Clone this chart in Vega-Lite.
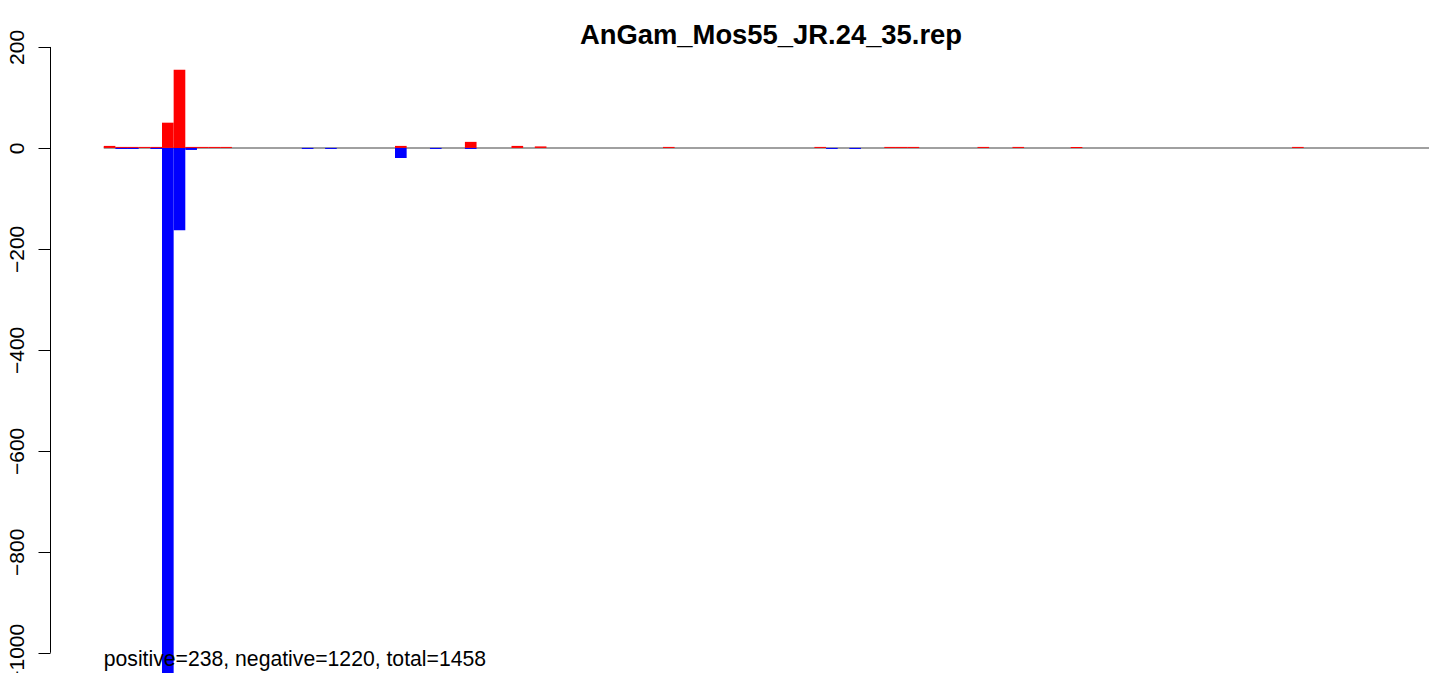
{
  "$schema": "https://vega.github.io/schema/vega-lite/v6.json",
  "autosize": {"type": "none"},
  "padding": {"left": 50, "top": 0, "right": 0, "bottom": 0},
  "width": 1379,
  "height": 673,
  "background": "white",
  "config": {"view": {"stroke": null}, "font": "Liberation Sans"},
  "title": {"text": "AnGam_Mos55_JR.24_35.rep", "font": "Liberation Sans", "fontSize": 27.4, "fontWeight": "bold", "color": "black", "anchor": "middle", "frame": "group", "dx": 31.5, "offset": -71, "baseline": "alphabetic", "orient": "top"},
  "data": {"values": [
    {"bar": 1, "pos": 4, "neg": 0},
    {"bar": 2, "pos": 2, "neg": -2},
    {"bar": 3, "pos": 2, "neg": -2},
    {"bar": 4, "pos": 2, "neg": 0},
    {"bar": 5, "pos": 2, "neg": -2},
    {"bar": 6, "pos": 50, "neg": -1060},
    {"bar": 7, "pos": 155, "neg": -163},
    {"bar": 8, "pos": 2, "neg": -4},
    {"bar": 9, "pos": 2, "neg": 0},
    {"bar": 10, "pos": 2, "neg": 0},
    {"bar": 11, "pos": 2, "neg": 0},
    {"bar": 12, "pos": 0, "neg": 0},
    {"bar": 13, "pos": 0, "neg": 0},
    {"bar": 14, "pos": 0, "neg": 0},
    {"bar": 15, "pos": 0, "neg": 0},
    {"bar": 16, "pos": 0, "neg": 0},
    {"bar": 17, "pos": 0, "neg": 0},
    {"bar": 18, "pos": 0, "neg": -2},
    {"bar": 19, "pos": 0, "neg": 0},
    {"bar": 20, "pos": 0, "neg": -2},
    {"bar": 21, "pos": 0, "neg": 0},
    {"bar": 22, "pos": 0, "neg": 0},
    {"bar": 23, "pos": 0, "neg": 0},
    {"bar": 24, "pos": 0, "neg": 0},
    {"bar": 25, "pos": 0, "neg": 0},
    {"bar": 26, "pos": 4, "neg": -20},
    {"bar": 27, "pos": 0, "neg": 0},
    {"bar": 28, "pos": 0, "neg": 0},
    {"bar": 29, "pos": 0, "neg": -2},
    {"bar": 30, "pos": 0, "neg": 0},
    {"bar": 31, "pos": 0, "neg": 0},
    {"bar": 32, "pos": 12, "neg": -2},
    {"bar": 33, "pos": 0, "neg": 0},
    {"bar": 34, "pos": 0, "neg": 0},
    {"bar": 35, "pos": 0, "neg": 0},
    {"bar": 36, "pos": 4, "neg": 0},
    {"bar": 37, "pos": 0, "neg": 0},
    {"bar": 38, "pos": 3, "neg": 0},
    {"bar": 39, "pos": 0, "neg": 0},
    {"bar": 40, "pos": 0, "neg": 0},
    {"bar": 41, "pos": 0, "neg": 0},
    {"bar": 42, "pos": 0, "neg": 0},
    {"bar": 43, "pos": 0, "neg": 0},
    {"bar": 44, "pos": 0, "neg": 0},
    {"bar": 45, "pos": 0, "neg": 0},
    {"bar": 46, "pos": 0, "neg": 0},
    {"bar": 47, "pos": 0, "neg": 0},
    {"bar": 48, "pos": 0, "neg": 0},
    {"bar": 49, "pos": 2, "neg": 0},
    {"bar": 50, "pos": 0, "neg": 0},
    {"bar": 51, "pos": 0, "neg": 0},
    {"bar": 52, "pos": 0, "neg": 0},
    {"bar": 53, "pos": 0, "neg": 0},
    {"bar": 54, "pos": 0, "neg": 0},
    {"bar": 55, "pos": 0, "neg": 0},
    {"bar": 56, "pos": 0, "neg": 0},
    {"bar": 57, "pos": 0, "neg": 0},
    {"bar": 58, "pos": 0, "neg": 0},
    {"bar": 59, "pos": 0, "neg": 0},
    {"bar": 60, "pos": 0, "neg": 0},
    {"bar": 61, "pos": 0, "neg": 0},
    {"bar": 62, "pos": 2, "neg": 0},
    {"bar": 63, "pos": 0, "neg": -2},
    {"bar": 64, "pos": 0, "neg": 0},
    {"bar": 65, "pos": 0, "neg": -2},
    {"bar": 66, "pos": 0, "neg": 0},
    {"bar": 67, "pos": 0, "neg": 0},
    {"bar": 68, "pos": 2, "neg": 0},
    {"bar": 69, "pos": 2, "neg": 0},
    {"bar": 70, "pos": 2, "neg": 0},
    {"bar": 71, "pos": 0, "neg": 0},
    {"bar": 72, "pos": 0, "neg": 0},
    {"bar": 73, "pos": 0, "neg": 0},
    {"bar": 74, "pos": 0, "neg": 0},
    {"bar": 75, "pos": 0, "neg": 0},
    {"bar": 76, "pos": 2, "neg": 0},
    {"bar": 77, "pos": 0, "neg": 0},
    {"bar": 78, "pos": 0, "neg": 0},
    {"bar": 79, "pos": 2, "neg": 0},
    {"bar": 80, "pos": 0, "neg": 0},
    {"bar": 81, "pos": 0, "neg": 0},
    {"bar": 82, "pos": 0, "neg": 0},
    {"bar": 83, "pos": 0, "neg": 0},
    {"bar": 84, "pos": 2, "neg": 0},
    {"bar": 85, "pos": 0, "neg": 0},
    {"bar": 86, "pos": 0, "neg": 0},
    {"bar": 87, "pos": 0, "neg": 0},
    {"bar": 88, "pos": 0, "neg": 0},
    {"bar": 89, "pos": 0, "neg": 0},
    {"bar": 90, "pos": 0, "neg": 0},
    {"bar": 91, "pos": 0, "neg": 0},
    {"bar": 92, "pos": 0, "neg": 0},
    {"bar": 93, "pos": 0, "neg": 0},
    {"bar": 94, "pos": 0, "neg": 0},
    {"bar": 95, "pos": 0, "neg": 0},
    {"bar": 96, "pos": 0, "neg": 0},
    {"bar": 97, "pos": 0, "neg": 0},
    {"bar": 98, "pos": 0, "neg": 0},
    {"bar": 99, "pos": 0, "neg": 0},
    {"bar": 100, "pos": 0, "neg": 0},
    {"bar": 101, "pos": 0, "neg": 0},
    {"bar": 102, "pos": 0, "neg": 0},
    {"bar": 103, "pos": 2, "neg": 0},
    {"bar": 104, "pos": 0, "neg": 0},
    {"bar": 105, "pos": 0, "neg": 0},
    {"bar": 106, "pos": 0, "neg": 0},
    {"bar": 107, "pos": 0, "neg": 0},
    {"bar": 108, "pos": 0, "neg": 0},
    {"bar": 109, "pos": 0, "neg": 0},
    {"bar": 110, "pos": 0, "neg": 0},
    {"bar": 111, "pos": 0, "neg": 0},
    {"bar": 112, "pos": 0, "neg": 0},
    {"bar": 113, "pos": 0, "neg": 0},
    {"bar": 114, "pos": 0, "neg": 0}
  ]},
  "layer": [
    {
      "data": {"values": [{"from": 0.5, "to": 114.255, "level": 0}]},
      "mark": {"type": "rule", "color": "#a0a0a0", "strokeWidth": 2},
      "encoding": {
        "x": {"field": "from", "type": "quantitative", "scale": {"domain": [-4.1137, 114.255], "nice": false, "zero": false, "padding": 0}, "axis": null},
        "x2": {"field": "to"},
        "y": {"field": "level", "type": "quantitative"}
      }
    },
    {
      "mark": {"type": "bar", "orient": "vertical", "size": 11.65, "color": "#ff0000", "clip": true},
      "encoding": {
        "x": {"field": "bar", "type": "quantitative"},
        "y": {"field": "pos", "type": "quantitative", "scale": {"domain": [-1040, 293], "nice": false, "zero": false},
          "axis": {"values": [-1000, -800, -600, -400, -200, 0, 200], "format": "d", "title": null, "domain": false, "grid": false, "ticks": true, "tickSize": 12, "tickColor": "black", "tickWidth": 1, "labelAngle": 270, "labelAlign": "center", "labelBaseline": "alphabetic", "labelPadding": 15, "labelFontSize": 21, "labelFont": "Liberation Sans", "labelColor": "black", "labelOverlap": false, "labelFlush": false, "labelBound": false}},
        "y2": {"datum": 0}
      }
    },
    {
      "mark": {"type": "bar", "orient": "vertical", "size": 11.65, "color": "#0000ff", "clip": true},
      "encoding": {
        "x": {"field": "bar", "type": "quantitative"},
        "y": {"field": "neg", "type": "quantitative"},
        "y2": {"datum": 0}
      }
    },
    {
      "data": {"values": [{"at": -4.1137, "top": 200, "bottom": -1000}]},
      "mark": {"type": "rule", "color": "black", "strokeWidth": 1, "xOffset": 0.5},
      "encoding": {
        "x": {"field": "at", "type": "quantitative"},
        "y": {"field": "top", "type": "quantitative"},
        "y2": {"field": "bottom"}
      }
    },
    {
      "data": {"values": [{"at": 0.5, "level": -1027, "label": "positive=238, negative=1220, total=1458"}]},
      "mark": {"type": "text", "align": "left", "baseline": "alphabetic", "fontSize": 21.2, "font": "Liberation Sans", "color": "black"},
      "encoding": {
        "x": {"field": "at", "type": "quantitative"},
        "y": {"field": "level", "type": "quantitative"},
        "text": {"field": "label", "type": "nominal"}
      }
    }
  ]
}
